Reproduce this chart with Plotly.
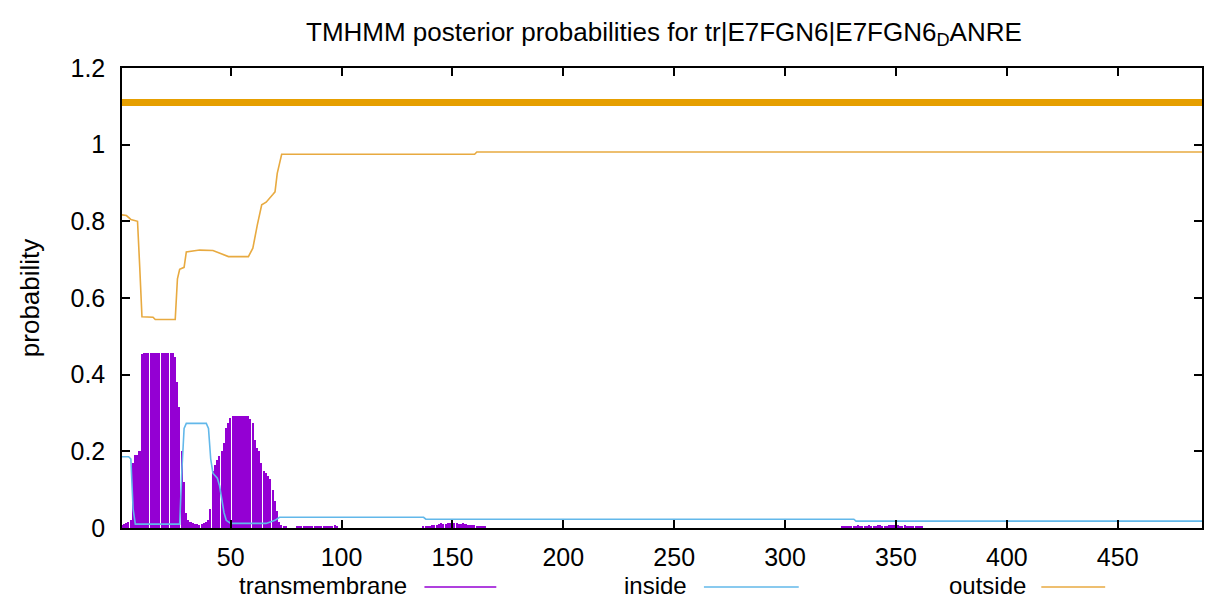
import plotly.graph_objects as go

# ---------------- data ----------------
seq_len = 488

# transmembrane posterior (impulses), residues 1..75
tm_x_main = list(range(1, 76))
tm_y_main = [0.008, 0.01, 0.012, 0.015, 0.02, 0.17, 0.19, 0.19, 0.2, 0.455,
             0.457, 0.457, 0.457, 0.457, 0.457, 0.457, 0.457, 0.457, 0.457, 0.457,
             0.457, 0.457, 0.457, 0.457, 0.445, 0.38, 0.316, 0.2, 0.12, 0.04,
             0.02, 0.015, 0.012, 0.01, 0.01, 0.008, 0.01, 0.012, 0.015, 0.02,
             0.05, 0.15, 0.165, 0.178, 0.187, 0.2, 0.222, 0.26, 0.275, 0.286,
             0.293, 0.293, 0.293, 0.293, 0.293, 0.293, 0.293, 0.293, 0.285, 0.273,
             0.23, 0.21, 0.2, 0.17, 0.15, 0.143, 0.135, 0.127, 0.1, 0.07,
             0.045, 0.016, 0.008, 0.005, 0.004]
tm_x_c1 = list(range(80, 99))
tm_y_c1 = [0.004, 0.005, 0.005, 0.005, 0.005, 0.005, 0.005, 0.006, 0.005, 0.005,
           0.005, 0.005, 0.006, 0.005, 0.005, 0.006, 0.006, 0.007, 0.006]
tm_x_c2 = list(range(137, 166))
tm_y_c2 = [0.004, 0.005, 0.006, 0.006, 0.008, 0.007, 0.009, 0.01, 0.012, 0.011,
           0.01, 0.012, 0.013, 0.013, 0.012, 0.013, 0.011, 0.01, 0.012, 0.011,
           0.009, 0.008, 0.009, 0.007, 0.006, 0.006, 0.005, 0.005, 0.004]
tm_x_c3 = list(range(326, 363))
tm_y_c3 = [0.004, 0.005, 0.005, 0.006, 0.006, 0.006, 0.006, 0.007, 0.006, 0.006,
           0.006, 0.006, 0.007, 0.006, 0.006, 0.006, 0.007, 0.007, 0.006, 0.006,
           0.006, 0.007, 0.007, 0.008, 0.007, 0.007, 0.006, 0.006, 0.007, 0.006,
           0.006, 0.006, 0.005, 0.005, 0.005, 0.005, 0.004]

# inside posterior (breakpoints)
in_x = [1, 4, 5, 6, 7, 26, 27, 28, 29, 30, 39, 40, 41, 42, 44, 45, 46, 47, 48,
        50, 66, 68, 70, 72, 137, 138, 331, 332, 488]
in_y = [0.186, 0.186, 0.18, 0.05, 0.01, 0.01, 0.01, 0.15, 0.26, 0.273, 0.273,
        0.26, 0.18, 0.143, 0.13, 0.11, 0.07, 0.04, 0.02, 0.012, 0.012, 0.015,
        0.02, 0.028, 0.028, 0.023, 0.023, 0.018, 0.018]

# outside posterior (breakpoints)
out_x = [1, 3, 5, 8, 9, 10, 15, 16, 25, 26, 27, 29, 30, 36, 42, 45, 49, 58, 59,
         60, 62, 64, 66, 67, 69, 70, 71, 72, 73, 160, 161, 488]
out_y = [0.817, 0.815, 0.805, 0.80, 0.68, 0.551, 0.55, 0.544, 0.544, 0.65, 0.675,
         0.68, 0.72, 0.725, 0.724, 0.718, 0.708, 0.708, 0.72, 0.73, 0.79, 0.843,
         0.85, 0.856, 0.87, 0.877, 0.925, 0.95, 0.975, 0.975, 0.981, 0.981]

# predicted topology segment (outside over the whole sequence)
topo_x = [1, 488]
topo_level = [1.11, 1.11]

x_ticks = [50, 100, 150, 200, 250, 300, 350, 400, 450]
y_ticks = [0, 0.2, 0.4, 0.6, 0.8, 1, 1.2]
y_tick_text = ["0", "0.2", "0.4", "0.6", "0.8", "1", "1.2"]

title_text = "TMHMM posterior probabilities for tr|E7FGN6|E7FGN6<sub>D</sub>ANRE"
legend_names = ["transmembrane", "inside", "outside"]

C_TM = "#9400D3"
C_IN = "#62B8EA"
C_OUT = "#E69F00"
C_OUT_THIN = "#E8AA40"
FONT = "Liberation Sans, Arial, sans-serif"
FS = 26

# ---------------- figure ----------------
fig = go.Figure()
tm_x = tm_x_main + tm_x_c1 + tm_x_c2 + tm_x_c3
tm_y = tm_y_main + tm_y_c1 + tm_y_c2 + tm_y_c3
fig.add_trace(go.Bar(x=tm_x, y=tm_y, width=0.7, marker=dict(color=C_TM, line=dict(width=0)),
                     name=legend_names[0], showlegend=False))
fig.add_trace(go.Scatter(x=in_x, y=in_y, mode="lines", line=dict(color=C_IN, width=1.6),
                         name=legend_names[1], showlegend=False))
fig.add_trace(go.Scatter(x=out_x, y=out_y, mode="lines", line=dict(color=C_OUT_THIN, width=1.6),
                         name=legend_names[2], showlegend=False))
fig.add_trace(go.Scatter(x=topo_x, y=topo_level, mode="lines", line=dict(color=C_OUT, width=7),
                         showlegend=False))

W, H = 1206, 599
ml, mr, mt, mb = 122, 2, 68, 71
pw, ph = W - ml - mr, H - mt - mb

def px(X):
    return (X - ml) / pw

def py(Y):
    return (H - mb - Y) / ph

annotations = [
    dict(text=title_text, x=px(665), y=py(33), xref="paper", yref="paper",
         showarrow=False, xanchor="center", yanchor="middle",
         font=dict(family=FONT, size=FS, color="black")),
    dict(text="probability", x=px(30), y=py(298), xref="paper", yref="paper",
         showarrow=False, textangle=-90, xanchor="center", yanchor="middle",
         font=dict(family=FONT, size=FS, color="black")),
]
shapes = []
legend_items = [(legend_names[0], 410, 425, 497, C_TM),
                (legend_names[1], 690, 705, 800, C_IN),
                (legend_names[2], 1030, 1043, 1107, C_OUT_THIN)]
for name, text_right, l0, l1, col in legend_items:
    annotations.append(dict(text=name, x=px(text_right), y=py(585), xref="paper", yref="paper",
                            showarrow=False, xanchor="right", yanchor="middle",
                            font=dict(family=FONT, size=24, color="black")))
    shapes.append(dict(type="line", xref="paper", yref="paper", x0=px(l0), x1=px(l1),
                       y0=py(587), y1=py(587), line=dict(color=col, width=1.6)))

fig.update_layout(
    width=W, height=H,
    margin=dict(l=ml, r=mr, t=mt, b=mb),
    paper_bgcolor="white", plot_bgcolor="white",
    bargap=0,
    font=dict(family=FONT, size=FS, color="black"),
    annotations=annotations, shapes=shapes,
    showlegend=False,
)
fig.update_xaxes(range=[1, seq_len], tickvals=x_ticks, ticks="inside", ticklen=8, tickwidth=1.5,
                 tickcolor="black", showline=True, linecolor="black", linewidth=1.5, mirror="ticks",
                 showgrid=False, zeroline=False, tickfont=dict(family=FONT, size=25),
                 ticklabelstandoff=6)
fig.update_yaxes(range=[0, 1.2], tickvals=y_ticks, ticktext=y_tick_text, ticks="inside", ticklen=8,
                 tickwidth=1.5, tickcolor="black", showline=True, linecolor="black", linewidth=1.5,
                 mirror="ticks", showgrid=False, zeroline=False, tickfont=dict(family=FONT, size=25),
                 ticklabelstandoff=10)

fig.write_html("out.html", config={"displayModeBar": False},
               post_script="document.body.style.margin='0px';document.body.style.overflow='hidden';")
